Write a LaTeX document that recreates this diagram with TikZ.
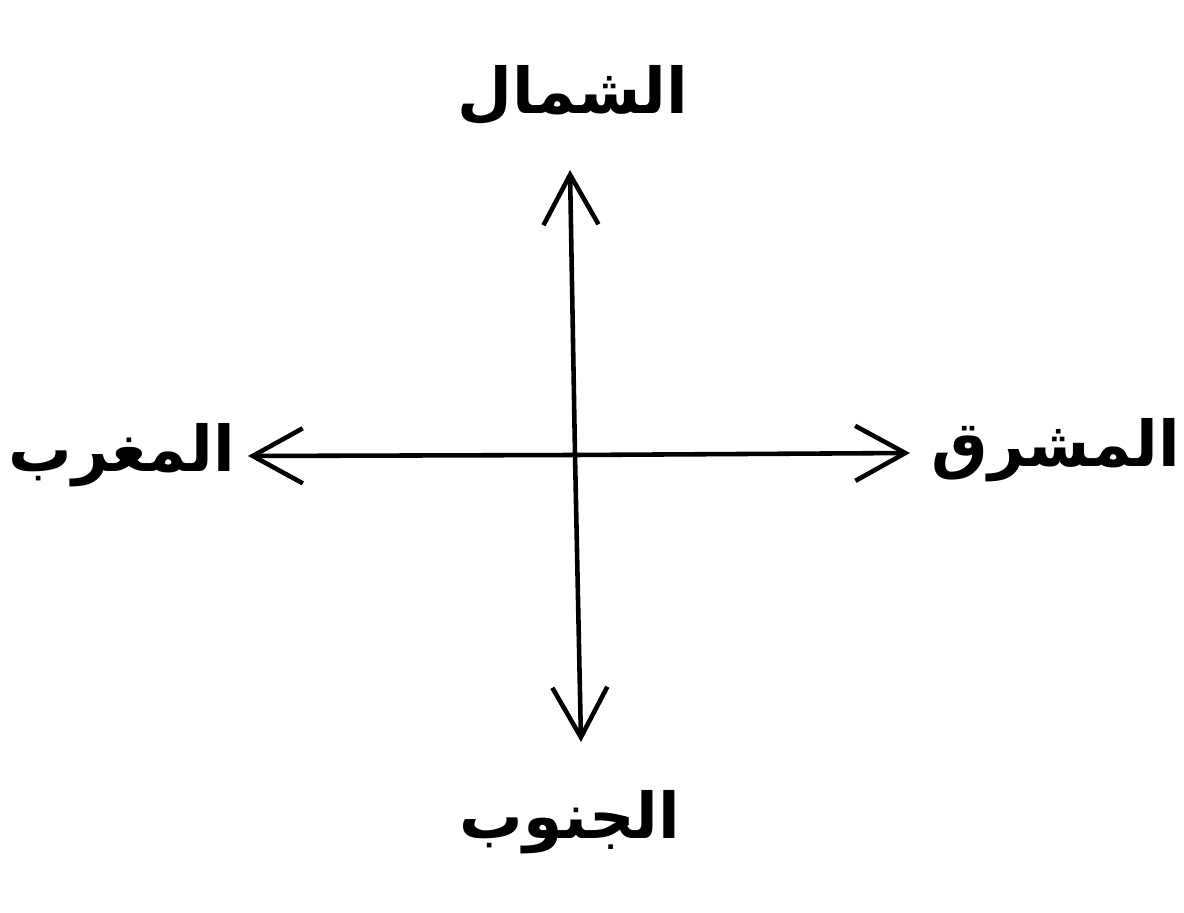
\documentclass[tikz,border=0pt]{standalone}
\usepackage{fontspec}
\newfontfamily\arabicfont[Script=Arabic]{DejaVu Sans}
\TeXXeTstate=1
\usetikzlibrary{arrows.meta}
\begin{document}
\begin{tikzpicture}[x=1cm,y=1cm,
  dir/.style={font=\arabicfont\fontsize{18}{22}\selectfont\bfseries,inner sep=0pt},
  arr/.style={line width=1.3pt,-{Straight Barb[length=5mm,width=5.5mm,line width=1.3pt]}}]
\useasboundingbox (0,0) rectangle (11.84,-9.13);
% centre and arrow tips
\coordinate (c) at (5.75,-4.55);
\coordinate (ntip) at (5.70,-1.70);
\coordinate (stip) at (5.81,-7.42);
\coordinate (etip) at (9.10,-4.53);
\coordinate (wtip) at (2.48,-4.56);
% labels
\node[dir] (north) at (5.73,-0.95) {\beginR الشمال\endR};
\node[dir] (east) at (10.56,-4.50) {\beginR المشرق\endR};
\node[dir] (west) at (1.22,-4.55) {\beginR المغرب\endR};
\node[dir] (south) at (5.70,-8.22) {\beginR الجنوب\endR};
% arrows
\draw[arr] (c) -- (ntip);
\draw[arr] (c) -- (stip);
\draw[arr] (c) -- (etip);
\draw[arr] (c) -- (wtip);
\end{tikzpicture}
\end{document}
